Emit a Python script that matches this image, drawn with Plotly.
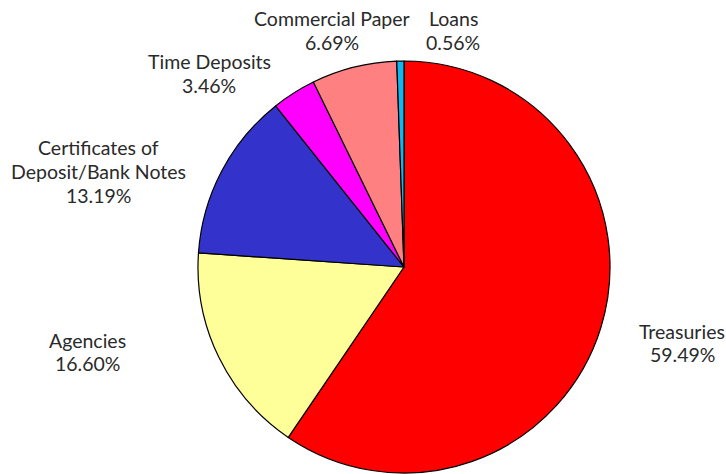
import plotly.graph_objects as go

labels = ["Treasuries", "Agencies", "Certificates of<br>Deposit/Bank Notes", "Time Deposits", "Commercial Paper", "Loans"]
values = [59.49, 16.60, 13.19, 3.46, 6.69, 0.56]
colors = ["#FF0000", "#FFFF99", "#3333CC", "#FF00FF", "#FF8080", "#14B4EC"]

# label block placement (pixels: center x, first-line y)
label_pos = [(682, 331), (87, 340), (98, 148), (209, 62), (332, 19), (453, 19)]

W, H = 726, 474
cx, cy, r = 404, 267, 206

fig = go.Figure(go.Pie(
    labels=labels, values=values, sort=False, direction="clockwise", rotation=0,
    marker=dict(colors=colors, line=dict(color="#000000", width=1.2)),
    textinfo="none", hoverinfo="label+percent", showlegend=False,
    domain=dict(x=[(cx - r) / W, (cx + r) / W],
                y=[max(0, (H - cy - r) / H), min(1, (H - cy + r) / H)]),
))

anns = []
for lab, val, (px, py) in zip(labels, values, label_pos):
    lines = lab.split("<br>") + [f"{val:.2f}%"]
    for i, t in enumerate(lines):
        anns.append(dict(
            x=px / W, y=1 - (py + i * 23.5) / H, xref="paper", yref="paper",
            text=t, showarrow=False, xanchor="center", yanchor="middle",
            font=dict(family="Lato, Carlito, sans-serif", size=19.5, color="#2a2a2a"),
        ))

fig.update_layout(
    width=W, height=H, margin=dict(l=0, r=0, t=0, b=0),
    paper_bgcolor="white", plot_bgcolor="white", annotations=anns,
)
fig.write_html("out.html")
